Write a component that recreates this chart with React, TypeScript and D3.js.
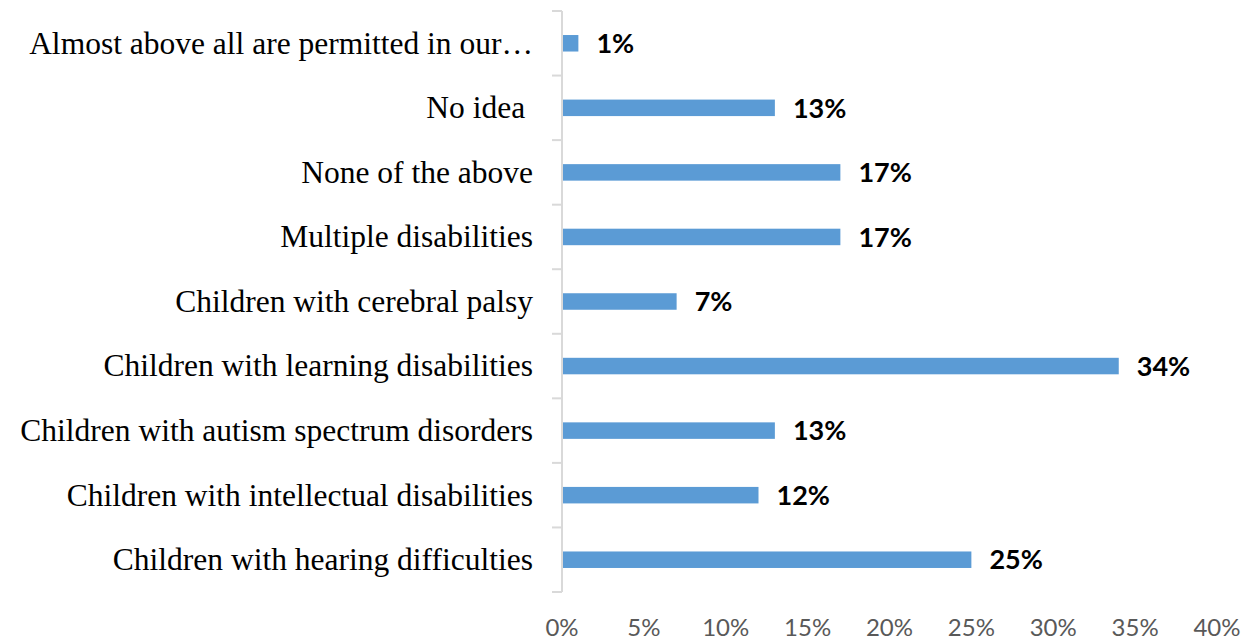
import React from "react";
import * as d3 from "d3";

const categories = [
  "Almost above all are permitted in our…",
  "No idea ",
  "None of the above",
  "Multiple disabilities",
  "Children with cerebral palsy",
  "Children with learning disabilities",
  "Children with autism spectrum disorders",
  "Children with intellectual disabilities",
  "Children with hearing difficulties",
];
const values = [1, 13, 17, 17, 7, 34, 13, 12, 25];
const ticks = [0, 5, 10, 15, 20, 25, 30, 35, 40];

export default function App() {
  const W = 1256, H = 642;
  const x0 = 562, x1 = 1217;
  const top = 11, bottom = 592;
  const x = d3.scaleLinear().domain([0, 40]).range([x0, x1]);
  const y = d3.scaleBand().domain(categories).range([top, bottom]);
  const barH = 16.5;
  return (
    <svg width={W} height={H} style={{ position: "absolute", left: 0, top: 0, background: "#fff" }}>
      <line x1={x0} x2={x0} y1={top} y2={bottom} stroke="#d9d9d9" strokeWidth={2} />
      {d3.range(categories.length + 1).map((i) => {
        const yy = top + i * y.step();
        return <line key={i} x1={x0 - 10} x2={x0} y1={yy} y2={yy} stroke="#d9d9d9" strokeWidth={2} />;
      })}
      {categories.map((c, i) => {
        const cy = (y(c) as number) + y.bandwidth() / 2;
        return (
          <g key={c}>
            <rect x={x0 + 1} y={cy - barH / 2} width={x(values[i]) - x0 - 1} height={barH} fill="#5B9BD5" />
            <text x={533} y={cy} dy="0.33em" textAnchor="end" style={{ whiteSpace: "pre" }} fontFamily="'Liberation Serif', 'Times New Roman', serif" fontSize={31.5} fill="#000">{c}</text>
            <text x={x(values[i]) + 18} y={cy} dy="0.36em" fontFamily="Lato, 'Open Sans', sans-serif" fontWeight="bold" fontSize={27} fill="#000">{values[i]}%</text>
          </g>
        );
      })}
      {ticks.map((t) => (
        <text key={t} x={x(t)} y={636} textAnchor="middle" fontFamily="Lato, 'Open Sans', sans-serif" fontSize={24} fill="#595959">{t}%</text>
      ))}
    </svg>
  );
}
